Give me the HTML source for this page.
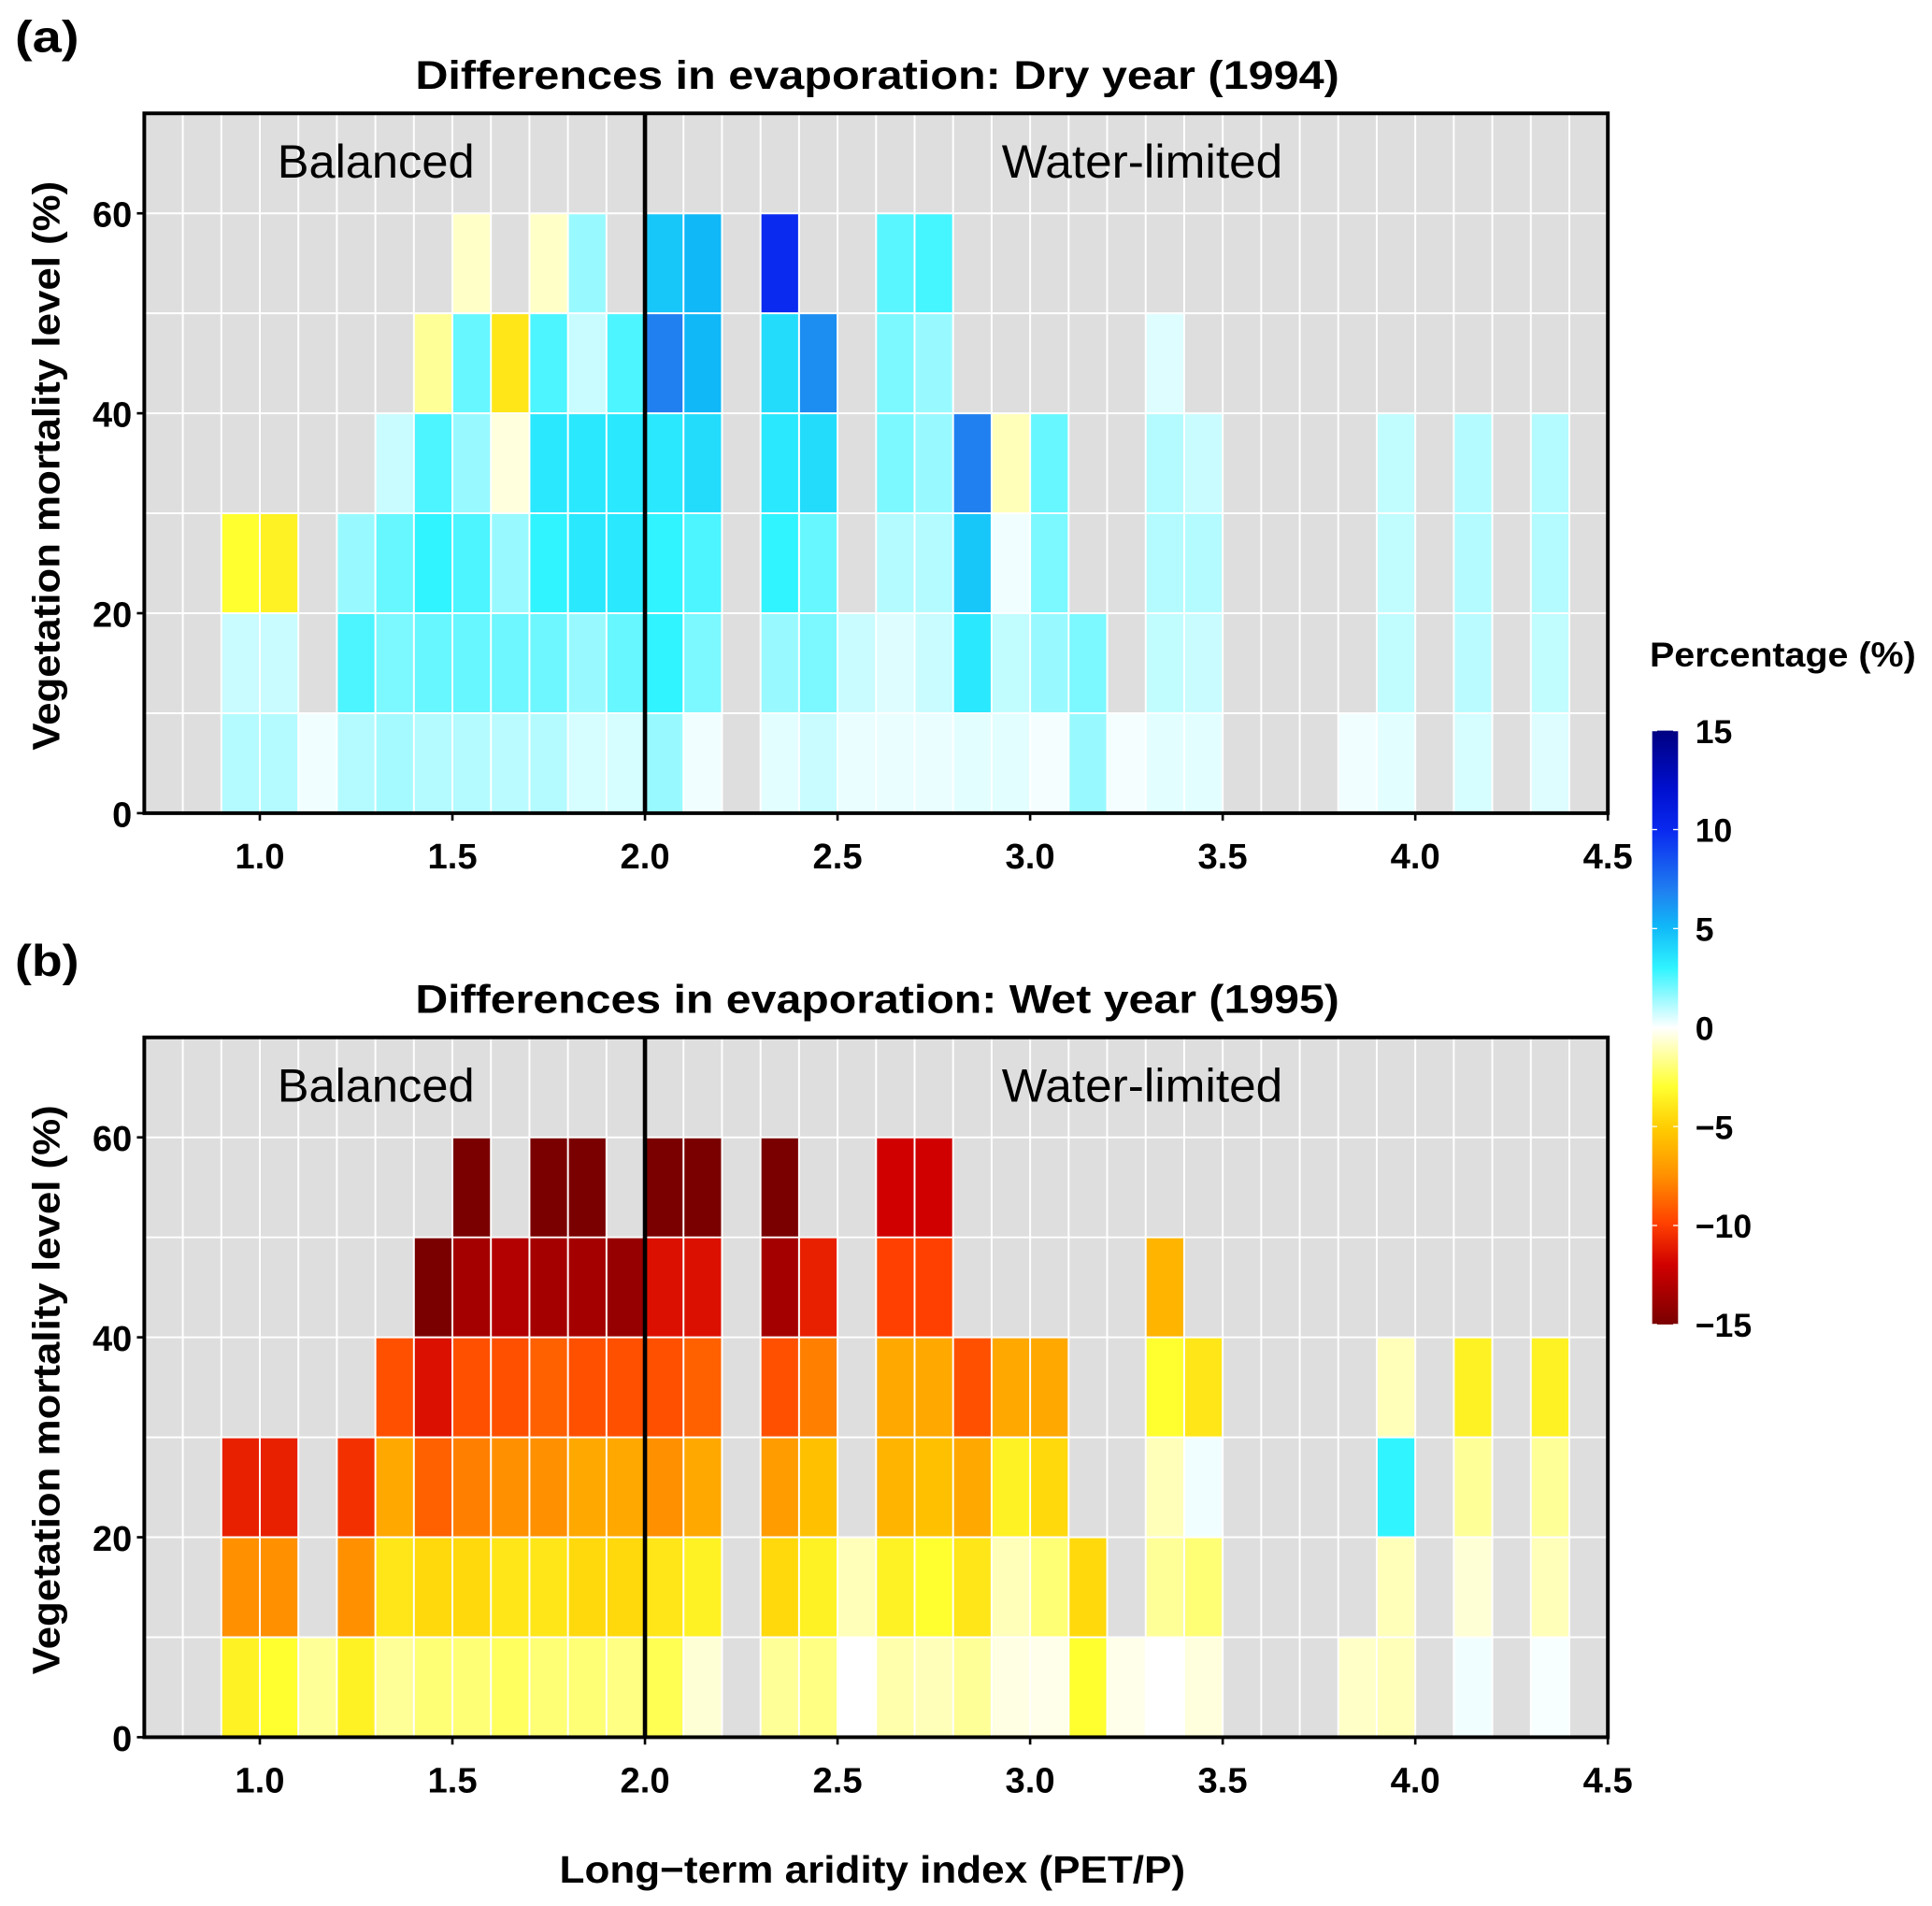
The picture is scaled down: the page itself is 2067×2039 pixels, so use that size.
<!DOCTYPE html>
<html><head><meta charset="utf-8"><style>
html,body{margin:0;padding:0;background:#fff}
svg{display:block}
text{font-family:"Liberation Sans",sans-serif}
</style></head><body>
<svg id="chart" width="2067" height="2039" viewBox="0 0 1568 1547" xmlns="http://www.w3.org/2000/svg">
<defs>
<linearGradient id="cbgrad" x1="0" y1="0" x2="0" y2="1">
<stop offset="0" stop-color="#000080"/>
<stop offset="0.1" stop-color="#0010d0"/>
<stop offset="0.17" stop-color="#0a2af0"/>
<stop offset="0.27" stop-color="#2080f0"/>
<stop offset="0.33" stop-color="#10b8f8"/>
<stop offset="0.4" stop-color="#30f4ff"/>
<stop offset="0.5" stop-color="#ffffff"/>
<stop offset="0.6" stop-color="#ffff30"/>
<stop offset="0.67" stop-color="#ffcc00"/>
<stop offset="0.75" stop-color="#ff9000"/>
<stop offset="0.83" stop-color="#ff4000"/>
<stop offset="0.9" stop-color="#d00000"/>
<stop offset="1" stop-color="#7a0000"/>
</linearGradient>
</defs>
<g id="root"></g>
</svg>
<script>
const xCells = [0.9,1.0,1.1,1.2,1.3,1.4,1.5,1.6,1.7,1.8,1.9,2.0,2.1,2.2,2.3,2.4,2.5,2.6,2.7,2.8,2.9,3.0,3.1,3.2,3.3,3.4,3.5,3.6,3.7,3.8,3.9,4.0,4.1,4.2,4.3];
const yRows = [0,10,20,30,40,50];
const xTicks = [1.0,1.5,2.0,2.5,3.0,3.5,4.0,4.5];
const yTicks = [0,20,40,60];
const cbTicks = [15,10,5,0,-5,-10,-15];
const cbLabels = ["15","10","5","0","\u22125","\u221210","\u221215"];
const N = null;
// panel a rows (bottom to top), 35 columns each
const dryRow0 = [1.1,1.1,0.2,1.1,1.3,1.1,1.1,1,1.1,0.6,0.6,1.5,0.2,N,0.4,0.8,0.3,0.3,0.3,0.4,0.4,0.15,1.5,0.15,0.4,0.4,N,N,N,0.2,0.4,N,0.6,N,0.5];
const dryRow1 = [0.8,0.8,N,2.6,1.9,2.2,2.2,2.1,2.1,1.5,2.2,3,1.9,N,1.5,1.9,0.8,0.5,0.8,3.4,0.9,1.5,1.9,N,0.9,0.8,N,N,N,N,0.9,N,1,N,0.9];
const dryRow2 = [-3,-3.5,N,1.5,2.2,3,2.6,1.5,3,3.4,3.4,3,2.6,N,3,2.2,N,1.1,1.1,4.5,0.2,1.9,N,N,1.1,1.1,N,N,N,N,0.9,N,1.1,N,1.1];
const dryRow3 = [N,N,N,N,0.8,2.6,1.5,-0.5,3.4,3.4,3.4,3.4,3.8,N,3.4,3.8,N,1.9,1.5,7,-1,2.2,N,N,1.1,0.8,N,N,N,N,0.9,N,1.1,N,1.1];
const dryRow4 = [N,N,N,N,N,-1.5,2.2,-4,2.6,0.8,2.6,7,5,N,3.8,6.5,N,1.9,1.5,N,N,N,N,N,0.5,N,N,N,N,N,N,N,N,N,N];
const dryRow5 = [N,N,N,N,N,N,-0.8,N,-0.8,1.5,N,4.5,5,N,10,N,N,2.4,2.7,N,N,N,N,N,N,N,N,N,N,N,N,N,N,N,N];
// panel b
const wetRow0 = [-3.5,-3,-1.5,-3.5,-1.5,-2,-2,-2.3,-2,-2,-1.8,-2.5,-0.6,N,-1.5,-1.8,0,-1.2,-1,-1.5,-0.4,-0.3,-3,-0.3,0,-0.5,N,N,N,-0.8,-1,N,0.2,N,0.1];
const wetRow1 = [-7.5,-7.5,N,-7.5,-4,-4.5,-4.5,-4,-4,-4.5,-4.5,-4,-3.5,N,-4.5,-3.5,-1,-3.5,-3,-4,-1,-2,-4.5,N,-1.5,-2,N,N,N,N,-1,N,-0.6,N,-1];
const wetRow2 = [-11,-11,N,-10.5,-6.5,-9,-8,-7.5,-7.5,-6.5,-6.5,-7.5,-6.5,N,-7,-5.5,N,-6,-5.5,-6.5,-3.5,-4.5,N,N,-1,0.2,N,N,N,N,3,N,-1.5,N,-1.5];
const wetRow3 = [N,N,N,N,-9.5,-11.5,-9.5,-9.5,-9,-9.5,-9.5,-9.5,-9,N,-9.5,-8,N,-6.5,-6.5,-9.5,-6.5,-6.5,N,N,-3,-4,N,N,N,N,-1,N,-3.5,N,-3.5];
const wetRow4 = [N,N,N,N,N,-15,-13.5,-13,-13.5,-13.5,-14,-11.5,-11.5,N,-13.5,-11,N,-10,-10,N,N,N,N,N,-6,N,N,N,N,N,N,N,N,N,N];
const wetRow5 = [N,N,N,N,N,N,-15,N,-15,-15,N,-15,-15,N,-15,N,N,-12,-12,N,N,N,N,N,N,N,N,N,N,N,N,N,N,N,N];

const NS="http://www.w3.org/2000/svg";
const root=document.getElementById('root');
function mk(tag,attrs,parent){const e=document.createElementNS(NS,tag);for(const k in attrs)e.setAttribute(k,attrs[k]);(parent||root).appendChild(e);return e;}
const stops=[[15,[0,0,128]],[12,[0,16,208]],[10,[10,42,240]],[7,[32,128,240]],[5,[16,184,248]],[3,[48,244,255]],[0,[255,255,255]],[-3,[255,255,48]],[-5,[255,204,0]],[-7.5,[255,144,0]],[-10,[255,64,0]],[-12,[208,0,0]],[-15,[122,0,0]]];
function color(v){v=Math.max(-15,Math.min(15,v));for(let i=0;i<stops.length-1;i++){const a=stops[i],b=stops[i+1];if(v<=a[0]&&v>=b[0]){const t=(a[0]-v)/(a[0]-b[0]);const c=a[1].map((x,j)=>Math.round(x+(b[1][j]-x)*t));return `rgb(${c[0]},${c[1]},${c[2]})`;}}return '#fff';}

const L=117,R=1305;
const xs=x=>L+(x-0.7)*(R-L)/3.8;
function panel(off,rows,key,title,label){
  const T=92+off,B=660+off;
  const ys=y=>B-y*(B-T)/70;
  const g=mk('g',{});
  
  
  const bg=mk('rect',{x:L,y:T,width:R-L,height:B-T,fill:'#dedede'},g);
  
  
  rows.forEach((row,ri)=>{row.forEach((v,ci)=>{if(v===null)return;
    const r=mk('rect',{x:xs(xCells[ci]),y:ys(yRows[ri]+10),width:xs(xCells[ci]+0.1)-xs(xCells[ci]),height:ys(yRows[ri])-ys(yRows[ri]+10),fill:color(v)},g);
    
    
  });});
  for(let x=0.8;x<4.45;x+=0.1){mk('line',{x1:xs(x),x2:xs(x),y1:T,y2:B,stroke:'#fff','stroke-width':1.5},g);}
  for(let y=10;y<70;y+=10){mk('line',{x1:L,x2:R,y1:ys(y),y2:ys(y),stroke:'#fff','stroke-width':1.5},g);}
  const dv=mk('line',{x1:xs(2),x2:xs(2),y1:T,y2:B,stroke:'#000','stroke-width':3.5},g);
  
  
  const fr=mk('rect',{x:L,y:T,width:R-L,height:B-T,fill:'none',stroke:'#000','stroke-width':3},g);
  
  
  xTicks.forEach(t=>{mk('line',{x1:xs(t),x2:xs(t),y1:B,y2:B+6,stroke:'#000','stroke-width':2},g);
    const tx=mk('text',{x:xs(t),y:B+45,'text-anchor':'middle','font-size':29,'font-weight':'bold'},g);tx.textContent=t.toFixed(1);
    
    });
  yTicks.forEach(t=>{mk('line',{x1:L-6,x2:L,y1:ys(t),y2:ys(t),stroke:'#000','stroke-width':2},g);
    const tx=mk('text',{x:L-10,y:ys(t)+11,'text-anchor':'end','font-size':29,'font-weight':'bold',textLength:t?32:16,lengthAdjust:'spacingAndGlyphs'},g);tx.textContent=t;
    
    });
  const yl=mk('text',{x:0,y:0,transform:`translate(48,${(T+B)/2+2}) rotate(-90)`,'text-anchor':'middle','font-size':31,'font-weight':'bold',textLength:462,lengthAdjust:'spacingAndGlyphs'},g);
  yl.textContent='Vegetation mortality level (%)';
  
  
  const tt=mk('text',{x:337,y:T-20,'font-size':32,'font-weight':'bold',textLength:750,lengthAdjust:'spacingAndGlyphs'},g);
  tt.textContent=title;
  
  
  const pl=mk('text',{x:12,y:T-50,'font-size':36,'font-weight':'bold',textLength:52,lengthAdjust:'spacingAndGlyphs'},g);
  pl.textContent=label;
  
  
  const b1=mk('text',{x:225,y:T+52,'font-size':38,textLength:160,lengthAdjust:'spacingAndGlyphs'},g);
  b1.textContent='Balanced';
  
  
  const b2=mk('text',{x:813,y:T+52,'font-size':38,textLength:228,lengthAdjust:'spacingAndGlyphs'},g);
  b2.textContent='Water-limited';
  
  
}
panel(0,[dryRow0,dryRow1,dryRow2,dryRow3,dryRow4,dryRow5],'dry','Differences in evaporation: Dry year (1994)','(a)');
panel(750,[wetRow0,wetRow1,wetRow2,wetRow3,wetRow4,wetRow5],'wet','Differences in evaporation: Wet year (1995)','(b)');

const xt=mk('text',{x:708,y:1528,'text-anchor':'middle','font-size':31,'font-weight':'bold',textLength:508,lengthAdjust:'spacingAndGlyphs'});
xt.textContent='Long\u2212term aridity index (PET/P)';



// colorbar
const cbT=593,cbB=1075;
const cbs=v=>cbT+(15-v)*(cbB-cbT)/30;
const cb=mk('rect',{x:1341,y:cbT,width:21,height:cbB-cbT,fill:'url(#cbgrad)'});


const ct=mk('text',{x:1339,y:541,'font-size':28,'font-weight':'bold',textLength:216,lengthAdjust:'spacingAndGlyphs'});
ct.textContent='Percentage (%)';


cbTicks.forEach((t,i)=>{
  mk('line',{x1:1341,x2:1345,y1:cbs(t),y2:cbs(t),stroke:'#fff','stroke-width':1});
  mk('line',{x1:1358,x2:1362,y1:cbs(t),y2:cbs(t),stroke:'#fff','stroke-width':1});
  const tx=mk('text',{x:1376,y:cbs(t)+10,'font-size':27,'font-weight':'bold'});
  tx.textContent=cbLabels[i];
  
  
});
</script>
</body></html>
